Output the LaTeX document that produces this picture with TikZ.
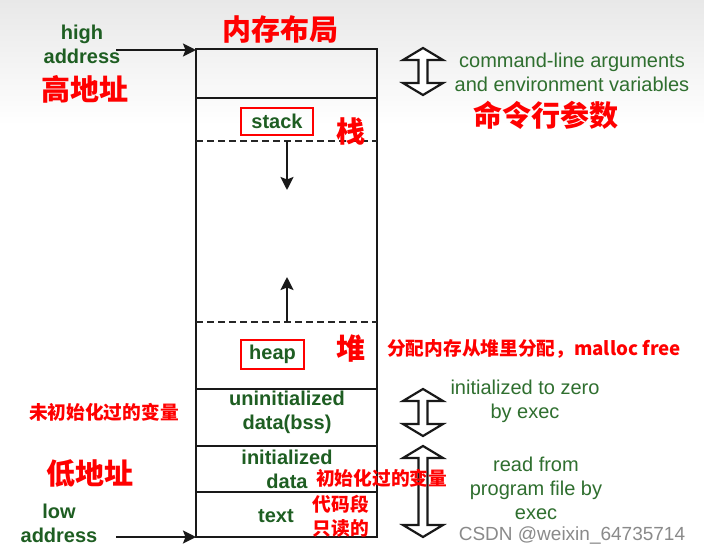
\documentclass[tikz,border=0pt]{standalone}
\usepackage{fontspec}
\setmainfont{Liberation Sans}
\newfontfamily\cjk{Noto Sans CJK SC}
\usetikzlibrary{arrows.meta}
\definecolor{gbold}{HTML}{1E5E22}
\definecolor{greg}{HTML}{2F6F2F}
\definecolor{cred}{HTML}{FF0000}
\definecolor{wmark}{HTML}{8A8A8A}
\tikzset{
  glabel/.style={inner sep=0pt, align=center, text=gbold, font=\fontsize{20}{24}\selectfont\bfseries},
  nlabel/.style={inner sep=0pt, align=center, text=greg, font=\fontsize{20}{24}\selectfont},
  bigred/.style={inner sep=0pt, text=cred, font=\cjk\bfseries\fontsize{29}{32}\selectfont},
  smallred/.style={inner sep=0pt, align=center, text=cred, font=\cjk\bfseries\fontsize{18.7}{24}\selectfont},
  redbox/.style={draw=cred, line width=2pt, glabel, inner sep=0pt},
  memline/.style={line width=2.5pt, black!90},
  dashline/.style={line width=2.2pt, black!85, dash pattern=on 6.5pt off 4.5pt},
  ptr/.style={line width=2.4pt, black!90, -{Stealth[length=13pt,width=13pt,inset=2.5pt]}},
  hollow/.style={line width=2.2pt, black!90, fill=white, line join=miter},
}
\newcommand{\hollowdarrow}[3]{%
  \draw[hollow] (#1,#2) -- (#1+20,#2+12) -- (#1+4.5,#2+12) -- (#1+4.5,#3-12)
    -- (#1+20,#3-12) -- (#1,#3) -- (#1-20,#3-12) -- (#1-4.5,#3-12)
    -- (#1-4.5,#2+12) -- (#1-20,#2+12) -- cycle;}
\begin{document}
\begin{tikzpicture}[x=1pt,y=-1pt]
\useasboundingbox (0,0) rectangle (704,554);
\fill[white] (0,0) rectangle (704,554);
\fill[top color=black!9, bottom color=white] (0,0) rectangle (704,125);

% memory block
\coordinate (tl) at (196,49);
\coordinate (br) at (377,537);
\draw[memline] (tl) rectangle (br);
\draw[memline] (196,98) -- (377,98);
\draw[memline] (196,389) -- (377,389);
\draw[memline] (196,446) -- (377,446);
\draw[memline] (196,492) -- (377,492);
\draw[dashline] (196,141) -- (377,141);
\draw[dashline] (196,322) -- (377,322);

% stack / heap arrows
\coordinate (sd0) at (287,141);
\coordinate (sd1) at (287,190);
\coordinate (hu0) at (287,322);
\coordinate (hu1) at (287,277);
\draw[ptr] (sd0) -- (sd1);
\draw[ptr] (hu0) -- (hu1);

% address arrows
\coordinate (ha0) at (116,50);
\coordinate (ha1) at (196,50);
\coordinate (la0) at (116,537);
\coordinate (la1) at (196,537);
\draw[ptr] (ha0) -- (ha1);
\draw[ptr] (la0) -- (la1);

% hollow double arrows
\hollowdarrow{423}{48}{95}
\hollowdarrow{423}{389}{436}
\hollowdarrow{423}{446}{537}

% green labels
\node[glabel] (hi) at (82,44) {high\\address};
\node[glabel] (lo) at (59,523) {low\\address};
\node[redbox, minimum width=72pt, minimum height=27pt] (stack) at (277,121.5) {stack};
\node[redbox, minimum width=63pt, minimum height=29pt] (heap) at (272.5,354.5) {heap};
\node[glabel] (bss) at (287,412) {uninitialized\\data(bss)};
\node[glabel] (init) at (287,469) {initialized\\data};
\node[glabel] (text) at (276,516) {text};
\node[nlabel] (cmd) at (572,72) {command-line arguments\\and environment variables};
\node[nlabel] (zero) at (525,401) {initialized to zero\\by exec};
\node[nlabel] (read) at (536,488) {read from\\program file by\\exec};

% red chinese labels
\node[bigred] (title) at (280,29) {内存布局};
\node[bigred] (high) at (85,89) {高地址};
\node[bigred] (low) at (90,474) {低地址};
\node[bigred] (cmdcn) at (546,115) {命令行参数};
\node[bigred] (zhan) at (351,131) {栈};
\node[bigred] (dui) at (351,349) {堆};
\node[smallred, anchor=west] (malloc) at (387,349) {分配内存从堆里分配，malloc free};
\node[smallred] (uninitcn) at (104,412) {未初始化过的变量};
\node[smallred, anchor=west] (initcn) at (316,478) {初始化过的变量};
\node[smallred] (textcn) at (341,516) {代码段\\只读的};

% watermark
\node[inner sep=0pt, text=wmark, font=\fontsize{19}{22}\selectfont] (csdn) at (572,535) {CSDN @weixin\_64735714};
\end{tikzpicture}
\end{document}
